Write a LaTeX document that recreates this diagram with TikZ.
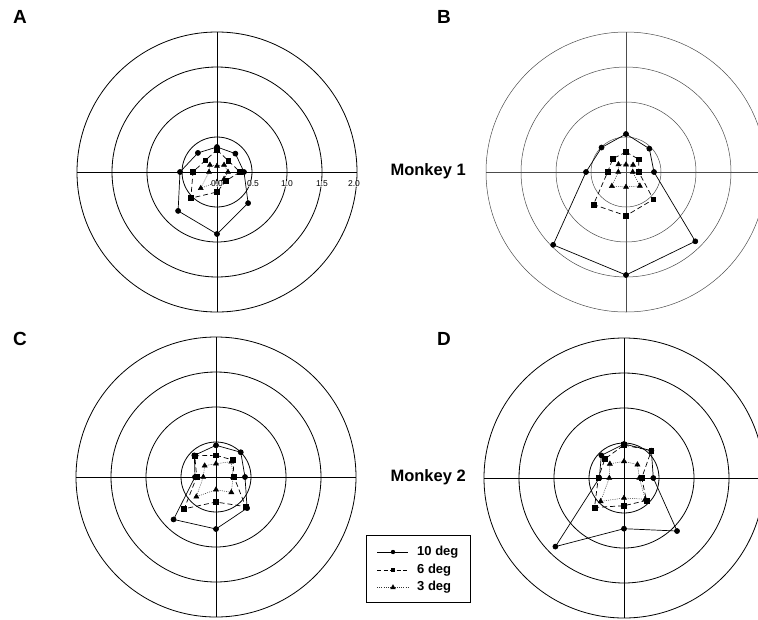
\documentclass[tikz,border=0pt]{standalone}
\usepackage{fontspec}
\setmainfont{Liberation Sans}
\usetikzlibrary{plotmarks}
\newcommand\currmark{*}
\newcommand\radpoly[9]{%
  \draw[#1] plot coordinates {(90:#2) (45:#3) (0:#4) (-45:#5) (-90:#6) (-135:#7) (180:#8) (135:#9)} -- cycle;
  \draw[#1, draw=none] plot[mark=\currmark, mark options={solid, fill=black, draw=black}] coordinates {(90:#2) (45:#3) (0:#4) (-45:#5) (-90:#6) (-135:#7) (180:#8) (135:#9)};}
\tikzset{
  ringline/.style={line width=0.8pt, black},
  ringthin/.style={line width=0.5pt, black!70},
  tendeg/.style={line width=0.7pt, black, mark size=2.5pt},
  sixdeg/.style={line width=0.7pt, black, dash pattern=on 5pt off 3pt, mark size=2.4pt},
  threedeg/.style={line width=0.5pt, black!80, dash pattern=on 1pt off 1.2pt, mark size=2.9pt},
  panellbl/.style={font=\fontsize{19}{20}\selectfont\bfseries},
  monkeylbl/.style={font=\fontsize{16.5}{18}\selectfont\bfseries, anchor=west},
  axlbl/.style={font=\fontsize{8.5}{9}\selectfont, inner sep=0pt},
  legtxt/.style={font=\fontsize{13}{14}\selectfont\bfseries, anchor=west, inner sep=0pt},
  every mark/.append style={line width=0.4pt}
}
\newcommand\rings[1]{%
  \foreach \r in {35,70,105,140} \draw[#1] (0,0) circle (\r);
  \draw[#1] (-140,0) -- (140,0);
  \draw[#1] (0,-140) -- (0,140);}
\begin{document}
\begin{tikzpicture}[x=1pt,y=1pt]
\useasboundingbox (0,0) rectangle (758,-619);
\clip (0,0) rectangle (758,-619);
% panel labels
\node[panellbl] (la) at (20,-17) {A};
\node[panellbl] (lb) at (444,-17) {B};
\node[panellbl] (lc) at (20,-339) {C};
\node[panellbl] (ld) at (444,-339) {D};
\node[monkeylbl] (m1) at (387,-171) {Monkey 1};
\node[monkeylbl] (m2) at (387,-477) {Monkey 2};
% Panel A
\begin{scope}[shift={(217,-172)}]
  \rings{ringline}
  \renewcommand\currmark{*}
  \radpoly{tendeg}{25}{26}{27}{44}{62}{55}{37}{27}
  \renewcommand\currmark{square*}
  \radpoly{sixdeg}{22}{16}{23}{12.5}{20}{37}{24}{16.5}
  \renewcommand\currmark{triangle*}
  \radpoly{threedeg}{6}{10}{11}{10}{10}{23}{8}{10}
  \foreach \v/\t in {0/0.0,36/0.5,70/1.0,105/1.5,137/2.0}
    \node[axlbl, fill=white, fill opacity=0.6, text opacity=1] (ax\v) at (\v,-12) {\t};
\end{scope}
% Panel B
\begin{scope}[shift={(626,-172)}]
  \rings{ringthin}
  \renewcommand\currmark{*}
  \radpoly{tendeg}{38}{33}{28}{98}{103}{103}{40}{34.6}
  \renewcommand\currmark{square*}
  \radpoly{sixdeg}{20}{18}{12.7}{38.7}{43.7}{46}{18.3}{18.8}
  \renewcommand\currmark{triangle*}
  \radpoly{threedeg}{7.3}{10}{6.7}{19.6}{15}{20}{7.7}{10.7}
\end{scope}
% Panel C
\begin{scope}[shift={(216,-477)}]
  \rings{ringline}
  \renewcommand\currmark{*}
  \radpoly{tendeg}{31.7}{35}{29}{44}{52}{60}{21}{30.6}
  \renewcommand\currmark{square*}
  \radpoly{sixdeg}{21.7}{24}{18}{42}{25}{45}{19.3}{30}
  \renewcommand\currmark{triangle*}
  \radpoly{threedeg}{13.3}{21.7}{17}{21.7}{12.7}{27.8}{12.7}{16}
\end{scope}
% Panel D
\begin{scope}[shift={(624,-478)}]
  \rings{ringline}
  \renewcommand\currmark{*}
  \radpoly{tendeg}{34}{38.7}{29.3}{75}{50.7}{97}{24.7}{32}
  \renewcommand\currmark{square*}
  \radpoly{sixdeg}{33}{38.7}{17.7}{31.8}{27.7}{41.7}{25.7}{27}
  \renewcommand\currmark{triangle*}
  \radpoly{threedeg}{16.7}{19}{15.3}{30}{20}{33}{14.7}{20}
\end{scope}
% Legend
\draw[line width=0.8pt] (366,-535) rectangle (470,-602);
\coordinate (l1a) at (377,-552); \coordinate (l1b) at (408,-552);
\coordinate (l2a) at (377,-570); \coordinate (l2b) at (408,-570);
\coordinate (l3a) at (377,-587); \coordinate (l3b) at (408,-587);
\draw[tendeg] (l1a) -- (l1b);
\draw[sixdeg, dash pattern=on 4pt off 2.5pt] (l2a) -- (l2b);
\draw[threedeg] (l3a) -- (l3b);
\fill (393,-552) circle (2.2pt);
\fill (390.8,-572.2) rectangle (395.2,-567.8);
\fill (390.3,-589) -- (395.7,-589) -- (393,-584.2) -- cycle;
\node[legtxt] (t1) at (417,-552) {10 deg};
\node[legtxt] (t2) at (417,-570) {6 deg};
\node[legtxt] (t3) at (417,-587) {3 deg};
\end{tikzpicture}
\end{document}
